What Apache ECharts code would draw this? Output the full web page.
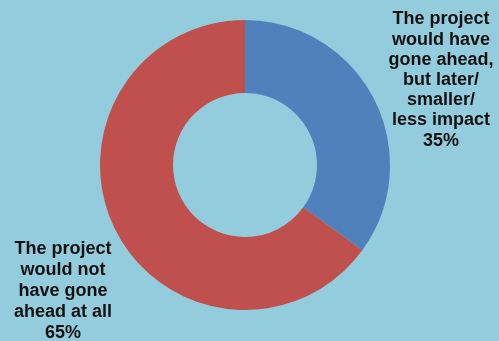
<!DOCTYPE html>
<html>
<head>
<meta charset="utf-8">
<script src="https://cdn.jsdelivr.net/npm/echarts@6/dist/echarts.min.js"></script>
<style>
html,body{margin:0;padding:0;background:#93CDDD;}
#c{width:499px;height:341px;}
</style>
</head>
<body>
<div id="c"></div>
<script>
var categories = [
  "The project\nwould have\ngone ahead,\nbut later/\nsmaller/\nless impact",
  "The project\nwould not\nhave gone\nahead at all"
];
var values = [35, 65];
var colors = ['#4F81BD', '#C0504D'];

var chart = echarts.init(document.getElementById('c'));
var labelPos = [
  {x: 441, y: 80, lh: 20.2},
  {x: 63, y: 291, lh: 21.2}
];
chart.setOption({
  backgroundColor: '#93CDDD',
  animation: false,
  series: [{
    type: 'pie',
    center: [245, 165],
    radius: [72, 145],
    startAngle: 90,
    clockwise: true,
    avoidLabelOverlap: false,
    data: categories.map(function (c, i) {
      return {
        name: c, value: values[i],
        itemStyle: {color: colors[i]},
        label: {lineHeight: labelPos[i].lh}
      };
    }),
    label: {
      show: true,
      position: 'outside',
      formatter: function (p) { return p.name + '\n' + p.value + '%'; },
      fontFamily: 'Liberation Sans, Arial, sans-serif',
      fontWeight: 'bold',
      fontSize: 18,
      color: '#111',
      align: 'center'
    },
    labelLine: {show: false},
    labelLayout: function (params) {
      var p = labelPos[params.dataIndex];
      return {x: p.x, y: p.y, align: 'center', verticalAlign: 'middle'};
    }
  }]
});
</script>
</body>
</html>
